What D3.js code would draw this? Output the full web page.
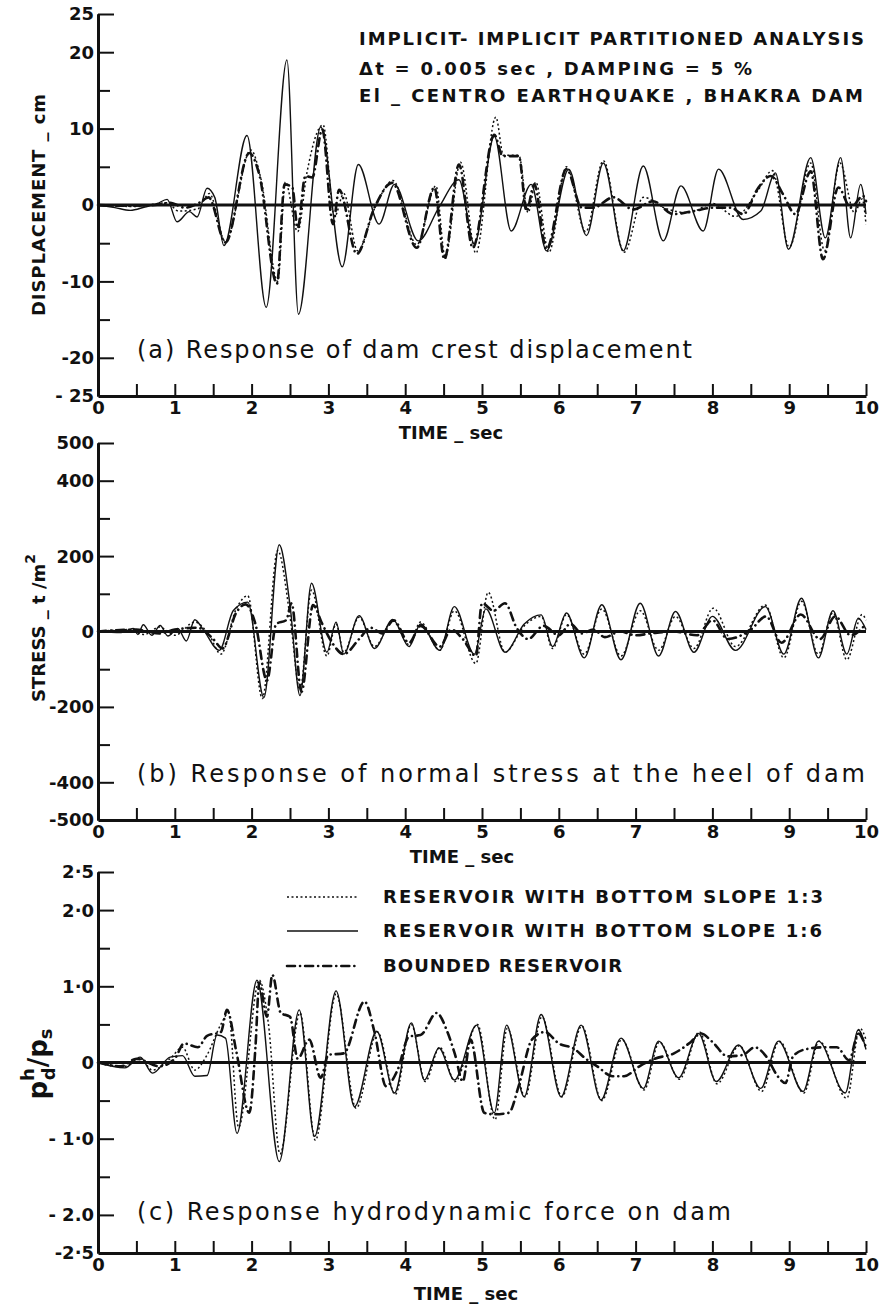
<!DOCTYPE html>
<html lang="en">
<head>
<meta charset="utf-8">
<script src="https://cdn.jsdelivr.net/npm/d3@7"></script>
<title>Bhakra dam - partitioned analysis response</title>
<style>
body { margin: 0; background: #fff; }
text { font-family: "DejaVu Sans", sans-serif; fill: #111; }
.axis text { font-size: 18px; font-weight: bold; font-family: "DejaVu Sans", sans-serif; }
.axis path, .axis line { stroke: #111; }
.axis .domain { stroke-width: 3; }
.axis .tick line { stroke-width: 2; }
.curve { fill: none; stroke: #111; }
.s13 { stroke-width: 1.5; stroke-dasharray: 2,2.5; }
.s16 { stroke-width: 1.4; }
.sb { stroke-width: 2.6; stroke-dasharray: 8,5,0.1,5; stroke-linecap: round; }
.caps { font-weight: bold; font-size: 18px; }
.panel-label { font-size: 24px; }
</style>
</head>
<body>
<div id="chart"></div>
<script>
// ---- data: [time sec, value] ----
var timeTicks = d3.range(0, 10.001, 0.5);

// (a) crest displacement, cm
var dispSlope13 = [[0,0],[0.5,-0.2],[0.9,0.3],[1.05,-0.8],[1.3,-0.5],[1.45,1.5],[1.66,-4.8],[1.99,7.2],[2.12,3.5],[2.34,-10.0],[2.44,3.0],[2.6,-3.5],[2.72,4.2],[2.93,10.5],[3.08,-1.5],[3.2,1.5],[3.38,-6.0],[3.6,-0.5],[3.84,3.2],[4.15,-5.2],[4.4,2.5],[4.52,-6.8],[4.72,5.6],[4.92,-6.3],[5.18,11.5],[5.28,6.5],[5.48,6.5],[5.6,-1.0],[5.7,3.0],[5.87,-6.2],[6.1,5.0],[6.35,-3.5],[6.58,5.8],[6.85,-6.2],[7.1,1.0],[7.4,-0.5],[7.7,-1.0],[8.0,0.2],[8.3,-1.5],[8.6,2.0],[8.78,4.5],[9.0,-5.5],[9.28,5.5],[9.46,-6.0],[9.66,5.5],[9.85,-1.0],[9.95,0.8],[10,-2.5]];
var dispSlope16 = [[0,0],[0.22,-0.35],[0.42,-0.7],[0.61,-0.26],[0.77,0.17],[0.9,0.74],[1.03,-2.2],[1.19,-0.87],[1.29,-1.57],[1.42,2.2],[1.52,1.0],[1.64,-5.3],[1.94,9.1],[2.19,-13.4],[2.46,19.0],[2.61,-14.3],[2.9,10.2],[3.18,-8.1],[3.39,5.3],[3.66,-2.5],[3.86,2.7],[4.17,-4.7],[4.44,-0.3],[4.7,3.3],[4.9,-5.1],[5.16,9.0],[5.38,-3.4],[5.64,2.7],[5.84,-6.0],[6.13,4.7],[6.36,-4.0],[6.58,5.5],[6.84,-6.0],[7.1,5.1],[7.36,-4.7],[7.59,2.5],[7.88,-3.4],[8.08,4.7],[8.4,-1.9],[8.63,-0.8],[8.82,4.2],[8.99,-5.8],[9.28,6.2],[9.47,-4.3],[9.67,6.2],[9.8,-4.3],[9.93,2.7],[10,-1.2]];
var dispBounded = [[0,0],[0.35,-0.1],[0.74,0],[0.94,0.3],[1.13,-0.35],[1.32,0.3],[1.44,1.0],[1.66,-4.9],[1.97,6.8],[2.1,4.0],[2.33,-10.3],[2.43,2.7],[2.53,2.3],[2.6,-3.0],[2.7,3.8],[2.79,3.6],[2.92,9.9],[3.06,-2.5],[3.14,2.0],[3.37,-6.4],[3.6,-0.35],[3.83,2.9],[4.15,-5.6],[4.38,2.3],[4.51,-7.1],[4.7,5.3],[4.88,-5.6],[5.16,9.2],[5.27,6.4],[5.48,6.4],[5.58,-0.8],[5.68,2.7],[5.84,-5.8],[6.1,4.7],[6.3,-0.35],[6.45,-0.35],[6.71,1.0],[6.97,-0.6],[7.23,0.5],[7.49,-1.2],[7.75,-0.8],[8.01,-0.35],[8.24,-0.35],[8.4,-1.2],[8.6,2.3],[8.76,3.8],[8.92,1.4],[9.08,-1.2],[9.28,4.4],[9.44,-7.1],[9.64,2.3],[9.8,-0.35],[9.96,1.2],[10,0.5]];

// (b) normal stress at heel, t/m2
var stressSlope13 = [[0,0],[0.4,5],[0.6,-8],[0.8,12],[1.0,-10],[1.26,25],[1.45,-10],[1.6,-60],[1.8,60],[1.95,95],[2.14,-178],[2.34,215],[2.5,40],[2.63,-155],[2.78,110],[2.98,-65],[3.1,20],[3.2,-55],[3.4,38],[3.6,-40],[3.84,28],[4.05,-35],[4.2,25],[4.45,-50],[4.64,55],[4.92,-85],[5.08,104],[5.3,-55],[5.55,15],[5.77,40],[5.92,-45],[6.1,45],[6.33,-60],[6.56,60],[6.81,-65],[7.06,55],[7.3,-50],[7.52,40],[7.76,-45],[8.01,62],[8.3,-40],[8.69,70],[8.93,-70],[9.16,80],[9.38,-60],[9.57,50],[9.75,-75],[9.95,45],[10,30]];
var stressSlope16 = [[0,0],[0.3,-3],[0.46,8],[0.52,-8],[0.59,18],[0.7,-10],[0.81,16],[0.91,-12],[1.04,8],[1.15,-25],[1.26,31],[1.37,5],[1.58,-50],[1.76,55],[1.95,78],[2.16,-175],[2.36,230],[2.5,70],[2.63,-170],[2.78,128],[2.98,-55],[3.1,25],[3.2,-60],[3.4,42],[3.6,-45],[3.84,32],[4.05,-40],[4.2,20],[4.45,-50],[4.64,66],[4.9,-60],[5.05,60],[5.3,-55],[5.55,20],[5.77,44],[5.92,-40],[6.1,49],[6.33,-70],[6.56,71],[6.81,-75],[7.06,75],[7.3,-65],[7.52,53],[7.76,-55],[8.0,40],[8.3,-50],[8.69,66],[8.93,-60],[9.16,88],[9.38,-70],[9.57,55],[9.75,-60],[9.9,35],[10,5]];
var stressBounded = [[0,0],[0.5,5],[0.8,-5],[1.0,5],[1.3,10],[1.5,-20],[1.62,-45],[1.8,50],[1.92,72],[2.05,20],[2.2,-130],[2.32,20],[2.45,30],[2.52,75],[2.65,-160],[2.8,70],[2.92,20],[3.05,-30],[3.2,-60],[3.4,-20],[3.55,10],[3.7,-5],[3.85,30],[4.05,-30],[4.2,15],[4.45,-40],[4.6,5],[4.75,-20],[4.92,-65],[5.0,75],[5.15,55],[5.3,75],[5.45,10],[5.6,-20],[5.8,15],[6.0,-10],[6.15,20],[6.3,-5],[6.45,5],[6.6,-15],[6.8,0],[7.0,-10],[7.2,-5],[7.5,0],[7.8,-10],[8.0,30],[8.2,-20],[8.5,5],[8.7,40],[8.9,-30],[9.15,45],[9.4,-20],[9.6,40],[9.8,-10],[10,20]];

// (c) hydrodynamic force pd/ps
var forceSlope13 = [[0,0],[0.35,-0.05],[0.55,0.05],[0.71,-0.1],[0.94,0.05],[1.1,0.2],[1.26,-0.1],[1.42,0.1],[1.6,0.5],[1.7,0.65],[1.83,-0.85],[2.1,1.08],[2.22,0.5],[2.37,-1.2],[2.63,0.65],[2.83,-1.02],[3.1,0.9],[3.36,-0.6],[3.64,0.4],[3.87,-0.42],[4.08,0.5],[4.26,-0.25],[4.45,0.2],[4.65,-0.25],[4.94,0.5],[5.17,-0.75],[5.33,0.45],[5.56,-0.45],[5.78,0.6],[6.04,-0.45],[6.3,0.48],[6.56,-0.5],[6.82,0.3],[7.11,-0.36],[7.31,0.27],[7.57,-0.22],[7.83,0.4],[8.06,-0.28],[8.35,0.22],[8.64,-0.38],[8.87,0.28],[9.19,-0.4],[9.39,0.28],[9.75,-0.47],[9.92,0.45],[10,0.3]];
var forceSlope16 = [[0,0],[0.35,-0.07],[0.55,0.07],[0.71,-0.14],[0.94,0.07],[1.1,0.09],[1.26,-0.18],[1.42,-0.17],[1.55,0.36],[1.66,0.32],[1.81,-0.93],[2.07,1.08],[2.36,-1.3],[2.62,0.69],[2.82,-0.97],[3.1,0.94],[3.34,-0.58],[3.63,0.41],[3.86,-0.4],[4.08,0.52],[4.25,-0.23],[4.44,0.19],[4.64,-0.23],[4.93,0.49],[5.16,-0.66],[5.32,0.49],[5.55,-0.45],[5.77,0.63],[6.03,-0.45],[6.29,0.49],[6.55,-0.49],[6.81,0.32],[7.1,-0.34],[7.3,0.28],[7.56,-0.2],[7.82,0.38],[8.05,-0.25],[8.34,0.23],[8.63,-0.34],[8.86,0.28],[9.18,-0.38],[9.38,0.28],[9.73,-0.4],[9.9,0.43],[10,0.17]];
var forceBounded = [[0,0],[0.3,-0.05],[0.5,0.05],[0.8,-0.05],[1.0,0.05],[1.12,0.25],[1.3,0.2],[1.42,0.35],[1.6,0.4],[1.68,0.69],[1.8,0.15],[1.97,-0.66],[2.05,0.2],[2.1,1.05],[2.2,0.6],[2.27,1.15],[2.38,0.65],[2.5,0.6],[2.6,0.05],[2.75,0.3],[2.9,-0.2],[3.0,0.1],[3.2,0.12],[3.47,0.8],[3.6,0.4],[3.75,-0.31],[3.9,-0.1],[4.05,0.34],[4.2,0.36],[4.41,0.65],[4.55,0.4],[4.65,0.1],[4.75,-0.25],[4.85,0.3],[5.03,-0.66],[5.15,-0.68],[5.35,-0.66],[5.48,-0.3],[5.65,0.3],[5.82,0.4],[6.0,0.25],[6.2,0.18],[6.35,0.05],[6.5,-0.05],[6.7,-0.18],[6.85,-0.18],[7.05,-0.05],[7.25,0.05],[7.5,0.12],[7.72,0.27],[7.85,0.38],[8.0,0.27],[8.2,0.08],[8.4,0.1],[8.55,0.2],[8.7,0.08],[8.85,-0.18],[8.95,-0.27],[9.05,0.08],[9.2,0.17],[9.45,0.2],[9.62,0.2],[9.78,0.03],[9.9,0.38],[10,0.2]];

var legendLabels = ["RESERVOIR WITH BOTTOM SLOPE 1:3", "RESERVOIR WITH BOTTOM SLOPE 1:6", "BOUNDED RESERVOIR"];
var titleLines = ["IMPLICIT- IMPLICIT PARTITIONED ANALYSIS", "\u0394t  = 0.005 sec ,  DAMPING  =  5 %", "El _ CENTRO EARTHQUAKE ,  BHAKRA DAM"];

var width = 880, height = 1308;
var styles = ["s13", "s16", "sb"];

var svg = d3.select("#chart").append("svg")
    .attr("width", width)
    .attr("height", height);

var x = d3.scaleLinear().domain([0, 10]).range([98, 866]);

var panels = [
    {domain: [-25, 25], top: 14, bottom: 396,
     major: [25, 20, 10, 0, -10, -20], minor: [15, 5, -5, -15],
     labelVals: [25, 20, 10, 0, -10, -20, -25],
     labels: ["25", "20", "10", "0", "-10", "-20", "- 25"],
     series: [dispSlope13, dispSlope16, dispBounded],
     title: "(a) Response of dam crest displacement", titleY: 358, titleLen: 555,
     timeX: 451, timeY: 439},
    {domain: [-500, 500], top: 443, bottom: 820,
     major: [500, 400, 200, 0, -200, -400], minor: [300, 100, -100, -300],
     labelVals: [500, 400, 200, 0, -200, -400, -500],
     labels: ["500", "400", "200", "0", "-200", "-400", "-500"],
     series: [stressSlope13, stressSlope16, stressBounded],
     title: "(b) Response of normal stress at the heel of dam", titleY: 782, titleLen: 728,
     timeX: 462, timeY: 863},
    {domain: [-2.5, 2.5], top: 872, bottom: 1253,
     major: [2.5, 2.0, 1.0, 0, -1.0, -2.0], minor: [1.5, 0.5, -0.5, -1.5],
     labelVals: [2.5, 2.0, 1.0, 0, -1.0, -2.0, -2.5],
     labels: ["2\u00b75", "2\u00b70", "1\u00b70", "0", "- 1\u00b70", "- 2.0", "-2\u00b75"],
     series: [forceSlope13, forceSlope16, forceBounded],
     title: "(c) Response hydrodynamic force on dam", titleY: 1220, titleLen: 594,
     timeX: 466, timeY: 1300}
];

panels.forEach(drawPanel);

function drawPanel(p) {
    var y = d3.scaleLinear().domain(p.domain).range([p.bottom, p.top]);
    var g = svg.append("g");

    var line = d3.line()
        .x(function(d) { return x(d[0]); })
        .y(function(d) { return y(d[1]); })
        .curve(d3.curveMonotoneX);

    p.series.forEach(function(s, i) {
        g.append("path").datum(s)
            .attr("class", "curve " + styles[i])
            .attr("d", line);
    });

    // zero line
    g.append("line")
        .attr("x1", x(0)).attr("x2", x(10))
        .attr("y1", y(0)).attr("y2", y(0))
        .attr("stroke", "#111").attr("stroke-width", 3);

    // y axis: ticks point into the plot
    g.append("g").attr("class", "axis")
        .attr("transform", "translate(" + x(0) + ",0)")
        .call(d3.axisLeft(y).tickValues(p.major).tickSizeInner(-16).tickSizeOuter(0).tickFormat(""));
    g.append("g").attr("class", "axis")
        .attr("transform", "translate(" + x(0) + ",0)")
        .call(d3.axisLeft(y).tickValues(p.minor).tickSizeInner(-12).tickSizeOuter(0).tickFormat(""));

    g.selectAll(".ylab")
        .data(p.labelVals)
        .enter().append("text")
        .attr("class", "ylab")
        .attr("x", x(0) - 4)
        .attr("y", function(d) { return y(d); })
        .attr("dy", "0.36em")
        .attr("text-anchor", "end")
        .style("font-size", "18px").style("font-weight", "bold")
        .text(function(d, i) { return p.labels[i]; });

    // time axis
    g.append("g").attr("class", "axis")
        .attr("transform", "translate(0," + p.bottom + ")")
        .call(d3.axisBottom(x).tickValues(timeTicks).tickSizeInner(-12).tickSizeOuter(0).tickPadding(5)
            .tickFormat(function(d) { return Number.isInteger(d) ? d : ""; }));

    g.append("text")
        .attr("class", "caps")
        .attr("x", p.timeX).attr("y", p.timeY)
        .attr("text-anchor", "middle")
        .text("TIME _ sec");

    g.append("text")
        .attr("class", "panel-label")
        .attr("x", 137).attr("y", p.titleY)
        .attr("textLength", p.titleLen)
        .attr("lengthAdjust", "spacing")
        .text(p.title);
}

// heading, top right of panel (a)
svg.selectAll(".heading")
    .data(titleLines)
    .enter().append("text")
    .attr("class", "heading caps")
    .attr("x", 359)
    .attr("y", function(d, i) { return [45, 75, 102][i]; })
    .attr("textLength", function(d, i) { return [505, 393, 504][i]; })
    .attr("lengthAdjust", "spacing")
    .text(function(d) { return d; });

// y axis titles
svg.append("text")
    .attr("class", "caps")
    .attr("transform", "translate(45,205) rotate(-90)")
    .attr("text-anchor", "middle")
    .attr("textLength", 222).attr("lengthAdjust", "spacing")
    .text("DISPLACEMENT _ cm");

var st = svg.append("text")
    .attr("class", "caps")
    .attr("transform", "translate(45,628) rotate(-90)")
    .attr("text-anchor", "middle");
st.append("tspan").text("STRESS _  t /m");
st.append("tspan").attr("dy", -10).style("font-size", "14px").text("2");

var pt = svg.append("text")
    .attr("transform", "translate(47,1064) rotate(-90)")
    .attr("text-anchor", "middle")
    .style("font-size", "26px").style("font-weight", "bold");
pt.append("tspan").text("p");
pt.append("tspan").attr("dy", -13).style("font-size", "18px").text("h");
pt.append("tspan").attr("dx", -12).attr("dy", 21).style("font-size", "18px").text("d");
pt.append("tspan").attr("dy", -8).text("/p");
pt.append("tspan").attr("dy", 5).style("font-size", "18px").text("s");

// legend in panel (c)
var legend = svg.append("g");
legendLabels.forEach(function(lab, i) {
    var ly = [897, 931, 966][i];
    legend.append("line")
        .attr("class", "curve " + styles[i])
        .attr("x1", 287).attr("x2", 358)
        .attr("y1", ly).attr("y2", ly);
    legend.append("text")
        .attr("class", "caps")
        .attr("x", 383).attr("y", ly)
        .attr("dy", "0.36em")
        .attr("textLength", [440, 439, 239][i])
        .attr("lengthAdjust", "spacing")
        .text(lab);
});
</script>
</body>
</html>
